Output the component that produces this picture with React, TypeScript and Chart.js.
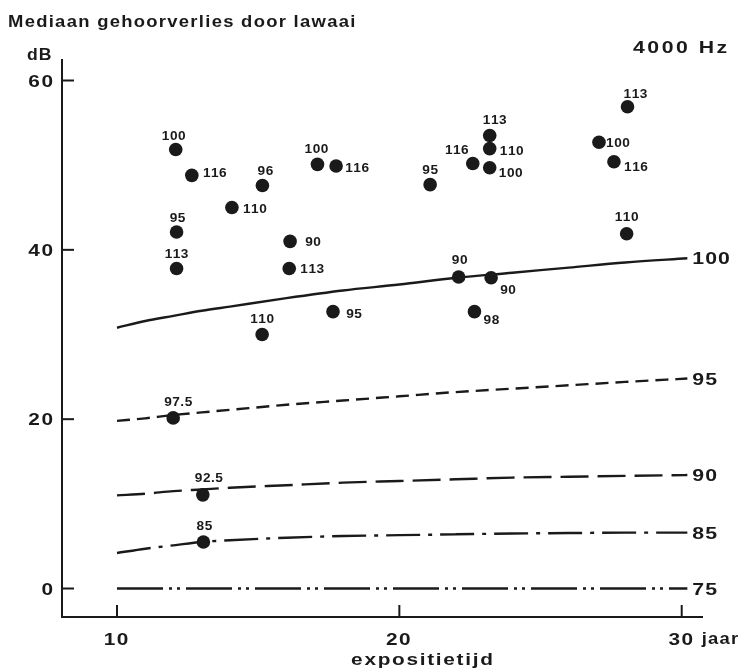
import React, { useEffect, useRef } from "react";
import { Chart, registerables } from "chart.js";

Chart.register(...registerables);

// ---- data ----
const curveYears = [10, 11, 12, 13, 14, 16, 18, 20, 22, 24, 26, 28, 30.2];
const curve100dB = [30.8, 31.6, 32.2, 32.8, 33.3, 34.3, 35.2, 35.9, 36.7, 37.3, 37.9, 38.5, 39.0];
const curve95dB = [19.8, 20.1, 20.5, 20.8, 21.1, 21.7, 22.2, 22.7, 23.2, 23.6, 24.0, 24.4, 24.8];
const curve90dB = [11.0, 11.2, 11.5, 11.7, 11.9, 12.2, 12.5, 12.7, 12.9, 13.1, 13.2, 13.3, 13.4];
const curve85dB = [4.2, 4.7, 5.1, 5.5, 5.7, 6.0, 6.2, 6.3, 6.4, 6.5, 6.55, 6.6, 6.6];
const curve75dB = [0, 0, 0, 0, 0, 0, 0, 0, 0, 0, 0, 0, 0];
const curveNames = ["100", "95", "90", "85", "75"];

const pointYears = [
  12.08, 12.65, 15.15, 14.07, 17.1, 17.76, 12.11, 12.11, 16.13, 16.1, 15.14, 17.65,
  21.09, 22.6, 23.2, 23.2, 23.2, 22.1, 23.25, 22.66, 28.08, 27.07, 27.6, 28.05,
  11.99, 13.04, 13.06,
];
const pointLoss = [
  51.85, 48.8, 47.6, 45.0, 50.1, 49.9, 42.1, 37.8, 41.0, 37.8, 30.0, 32.7,
  47.7, 50.2, 53.5, 51.96, 49.7, 36.8, 36.7, 32.7, 56.9, 52.7, 50.4, 41.9,
  20.15, 11.06, 5.5,
];
const pointLevels = [
  "100", "116", "96", "110", "100", "116", "95", "113", "90", "113", "110", "95",
  "95", "116", "113", "110", "100", "90", "90", "98", "113", "100", "116", "110",
  "97.5", "92.5", "85",
];
// label placement relative to its dot (px)
const labelOffsets = [
  [-2, -14], [23, -3], [3, -15], [23, 1], [-1, -16], [21, 1], [1, -15], [0, -15], [23, 0], [23, 0], [0, -16], [21, 2],
  [0, -15], [-16, -14], [5, -16], [22, 2], [21, 5], [1, -18], [17, 12], [17, 8], [8, -13], [19, 0], [22, 5], [0, -17],
  [5, -17], [6, -17], [1, -17],
];

const yTickValues = [0, 20, 40, 60];
const xTickValues = [10, 20, 30];
const titleText = "Mediaan gehoorverlies door lawaai";
const yUnit = "dB";
const xUnit = "jaar";
const xTitle = "expositietijd";
const freqText = "4000 Hz";

const INK = "#1a1a1a";

function drawText(
  ctx: CanvasRenderingContext2D,
  s: string,
  x: number,
  y: number,
  size: number,
  align: "left" | "center" | "right",
  sx = 1.25,
  sp = 1.5
) {
  ctx.save();
  ctx.font = `bold ${size}px "Liberation Sans", Arial, sans-serif`;
  ctx.textAlign = "left";
  ctx.textBaseline = "alphabetic";
  ctx.fillStyle = INK;
  const chars = [...s];
  const ws = chars.map((c) => ctx.measureText(c).width * sx);
  const total = ws.reduce((a, b) => a + b, 0) + sp * (chars.length - 1);
  let cx = align === "left" ? x : align === "right" ? x - total : x - total / 2;
  chars.forEach((c, i) => {
    ctx.save();
    ctx.translate(cx, y);
    ctx.scale(sx, 1);
    ctx.fillText(c, 0, 0);
    ctx.restore();
    cx += ws[i] + sp;
  });
  ctx.restore();
}

const decorPlugin = {
  id: "decor",
  afterDatasetsDraw(chart: any) {
    const ctx: CanvasRenderingContext2D = chart.ctx;
    const xs = chart.scales.x;
    const ys = chart.scales.y;
    const area = chart.chartArea;
    ctx.save();
    ctx.strokeStyle = INK;
    ctx.lineWidth = 2;
    ctx.setLineDash([]);
    // axes
    ctx.beginPath();
    ctx.moveTo(area.left, area.top);
    ctx.lineTo(area.left, area.bottom);
    ctx.lineTo(area.right, area.bottom);
    ctx.stroke();
    // y ticks
    yTickValues.forEach((v) => {
      const py = ys.getPixelForValue(v);
      ctx.beginPath();
      ctx.moveTo(area.left, py);
      ctx.lineTo(area.left + 12, py);
      ctx.stroke();
      drawText(ctx, String(v), 53, py + 6, 16, "right", 1.3, 1.5);
    });
    // x ticks
    xTickValues.forEach((v) => {
      const px = xs.getPixelForValue(v);
      ctx.beginPath();
      ctx.moveTo(px, area.bottom);
      ctx.lineTo(px, area.bottom - 12);
      ctx.stroke();
      drawText(ctx, String(v), px - 1, 645, 16, "center", 1.3, 1.5);
    });
    drawText(ctx, xUnit, xs.getPixelForValue(30) + 20, 644, 16, "left", 1.15, 1.2);
    drawText(ctx, xTitle, 422, 665, 16, "center", 1.3, 1.7);
    drawText(ctx, yUnit, 27, 60, 16, "left", 1.1, 1);
    drawText(ctx, titleText, 8, 27, 16, "left", 1.15, 1.3);
    drawText(ctx, freqText, 633, 53, 17, "left", 1.25, 2.5);

    // curve end labels
    const curves = [curve100dB, curve95dB, curve90dB, curve85dB, curve75dB];
    curves.forEach((c, i) => {
      const lastX = curveYears[curveYears.length - 1];
      const px = xs.getPixelForValue(lastX);
      const py = ys.getPixelForValue(c[c.length - 1]);
      drawText(ctx, curveNames[i], px + 5, py + 6, 17, "left", 1.25, 1);
    });

    // point labels
    pointLevels.forEach((lab, i) => {
      const px = xs.getPixelForValue(pointYears[i]);
      const py = ys.getPixelForValue(pointLoss[i]);
      const [dx, dy] = labelOffsets[i];
      drawText(ctx, lab, px + dx, py + dy + 4.6, 13, "center", 1.05, 0.5);
    });
    ctx.restore();
  },
};

function curveData(vals: number[]) {
  return curveYears.map((x, i) => ({ x, y: vals[i] }));
}

export default function App() {
  const ref = useRef<HTMLCanvasElement | null>(null);
  useEffect(() => {
    if (!ref.current) return;
    const lineBase = {
      showLine: true,
      pointRadius: 0,
      borderColor: INK,
      borderWidth: 2.4,
      cubicInterpolationMode: "monotone" as const,
      fill: false,
      order: 2,
    };
    const chart = new Chart(ref.current, {
      type: "scatter",
      data: {
        datasets: [
          {
            label: "points",
            data: pointYears.map((x, i) => ({ x, y: pointLoss[i] })),
            pointRadius: 6.8,
            pointBackgroundColor: INK,
            pointBorderWidth: 0,
            showLine: false,
            order: 0,
          },
          { ...lineBase, label: "100", data: curveData(curve100dB) },
          { ...lineBase, label: "95", data: curveData(curve95dB), borderDash: [13, 7] },
          { ...lineBase, label: "90", data: curveData(curve90dB), borderDash: [28, 9] },
          { ...lineBase, label: "85", data: curveData(curve85dB), borderDash: [34, 8, 4, 8] },
          { ...lineBase, label: "75", data: curveData(curve75dB), borderDash: [46, 6, 3, 5, 3, 6] },
        ] as any,
      },
      options: {
        animation: false,
        responsive: true,
        maintainAspectRatio: false,
        layout: { padding: { left: 62, right: 43, top: 59, bottom: 55 } },
        plugins: { legend: { display: false }, tooltip: { enabled: false }, title: { display: false } },
        scales: {
          x: { type: "linear", min: 8.052, max: 30.754, display: false },
          y: { type: "linear", min: -3.365, max: 62.54, display: false },
        },
      },
      plugins: [decorPlugin],
    });
    return () => chart.destroy();
  }, []);
  return (
    <div style={{ position: "fixed", left: 0, top: 0, width: 746, height: 672, background: "#fff" }}>
      <canvas ref={ref} />
    </div>
  );
}
